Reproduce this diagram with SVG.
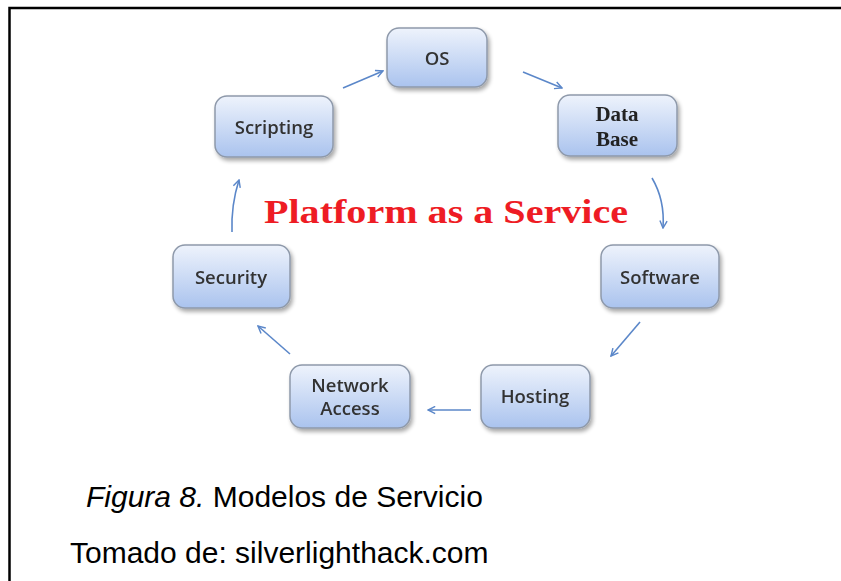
<svg xmlns="http://www.w3.org/2000/svg" width="841" height="581" viewBox="0 0 841 581">
<style>
.box{fill:url(#g);stroke:#8e99aa;stroke-width:1.5}
.lbl{font-family:"Open Sans","Liberation Sans",sans-serif;font-weight:600;font-size:18.5px;fill:#333;text-anchor:middle}
.ser{font-family:"Liberation Serif",serif;font-weight:bold;font-size:21px;fill:#222;text-anchor:middle}
.arr{fill:none;stroke:#5b87c9;stroke-width:1.6;marker-end:url(#ah)}
.cap{font-family:"Liberation Sans",sans-serif;font-size:30px;fill:#000}
</style>
<defs>
<linearGradient id="g" x1="0" y1="0" x2="0" y2="1">
<stop offset="0" stop-color="#eef3fc"/>
<stop offset="1" stop-color="#aac3ee"/>
</linearGradient>
<filter id="sh" x="-10%" y="-10%" width="130%" height="140%">
<feGaussianBlur in="SourceAlpha" stdDeviation="2"/>
<feOffset dx="2" dy="3" result="b"/>
<feComponentTransfer><feFuncA type="linear" slope="0.35"/></feComponentTransfer>
<feMerge><feMergeNode/><feMergeNode in="SourceGraphic"/></feMerge>
</filter>
<marker id="ah" viewBox="0 0 10 10" refX="9" refY="5" markerWidth="9" markerHeight="9" markerUnits="userSpaceOnUse" orient="auto">
<polyline points="1,1 9,5 1,9" fill="none" stroke="#5b87c9" stroke-width="1.6"/>
</marker>
</defs>
<rect width="841" height="581" fill="#fff"/>
<path d="M9.5,581 V8 H841" fill="none" stroke="#000" stroke-width="2.5"/>

<g id="connectors">
<path class="arr" d="M343,88 L383,71"/>
<path class="arr" d="M523,72 L562,88"/>
<path class="arr" d="M652,178 Q665,200 663,228"/>
<path class="arr" d="M640,322 L611,356"/>
<path class="arr" d="M471,410 L428,410"/>
<path class="arr" d="M290,354 L258,326"/>
<path class="arr" d="M232,232 Q231,205 239,180"/>
</g>

<g id="os" filter="url(#sh)"><rect class="box" x="387" y="28" width="100" height="59" rx="12"/><text class="lbl" x="437" y="65">OS</text></g>
<g id="database" filter="url(#sh)"><rect class="box" x="558" y="95" width="119" height="61" rx="12"/><text class="ser" x="617" y="121">Data</text><text class="ser" x="617" y="146">Base</text></g>
<g id="software" filter="url(#sh)"><rect class="box" x="601" y="245" width="118" height="63" rx="12"/><text class="lbl" x="660" y="284">Software</text></g>
<g id="hosting" filter="url(#sh)"><rect class="box" x="481" y="365" width="109" height="63" rx="12"/><text class="lbl" x="535" y="403">Hosting</text></g>
<g id="network" filter="url(#sh)"><rect class="box" x="290" y="365" width="120" height="63" rx="12"/><text class="lbl" x="350" y="392">Network</text><text class="lbl" x="350" y="415">Access</text></g>
<g id="security" filter="url(#sh)"><rect class="box" x="173" y="245" width="117" height="63" rx="12"/><text class="lbl" x="231" y="284">Security</text></g>
<g id="scripting" filter="url(#sh)"><rect class="box" x="215" y="96" width="118" height="61" rx="12"/><text class="lbl" x="274" y="134">Scripting</text></g>

<text x="264" y="223" font-family="Liberation Serif,serif" font-weight="bold" font-size="33" fill="#ee1c24" textLength="364" lengthAdjust="spacingAndGlyphs">Platform as a Service</text>

<text class="cap" x="86" y="507"><tspan font-style="italic">Figura 8.</tspan> Modelos de Servicio</text>
<text class="cap" x="70" y="563">Tomado de: silverlighthack.com</text>
</svg>
